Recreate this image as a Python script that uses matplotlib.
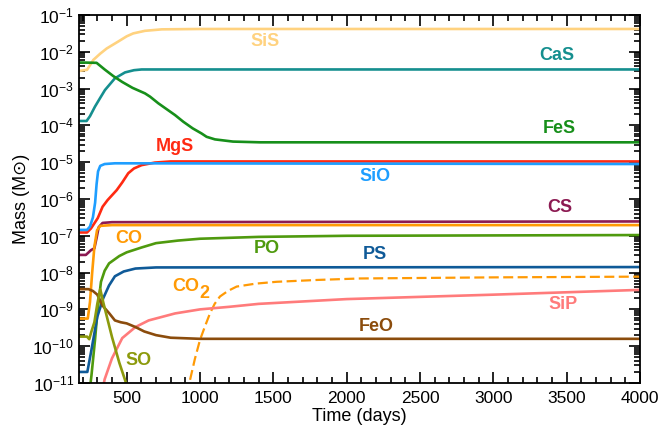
import numpy as np
import matplotlib
matplotlib.use("Agg")
import matplotlib.pyplot as plt
from matplotlib.ticker import MultipleLocator, LogLocator, NullFormatter

plt.rcParams['font.family'] = ['Liberation Sans', 'DejaVu Sans']
plt.rcParams['mathtext.fontset'] = 'custom'
plt.rcParams['mathtext.rm'] = 'Liberation Sans'
plt.rcParams['mathtext.it'] = 'Liberation Sans:italic'
plt.rcParams['mathtext.bf'] = 'Liberation Sans:bold'

# time (days) and log10 of mass (solar masses) for each molecule
sis_t = [175, 230, 273, 320, 364, 443, 500, 545, 625, 740, 1000, 4000]
sis_m = [-2.52, -2.49, -2.22, -2.05, -1.91, -1.72, -1.58, -1.50, -1.43, -1.39, -1.38, -1.38]

cas_t = [175, 227, 250, 284, 320, 352, 420, 489, 550, 602, 800, 4000]
cas_m = [-3.88, -3.88, -3.75, -3.49, -3.25, -3.04, -2.72, -2.56, -2.50, -2.48, -2.48, -2.48]

fes_t = [175, 295, 350, 409, 470, 540, 625, 660, 716, 830, 886, 950, 1011, 1045, 1102, 1225, 1410, 4000]
fes_m = [-2.29, -2.30, -2.48, -2.66, -2.82, -2.98, -3.13, -3.22, -3.40, -3.72, -3.90, -4.08, -4.22, -4.31, -4.38, -4.44, -4.46, -4.46]

mgs_t = [175, 230, 257, 280, 303, 336, 370, 432, 470, 511, 550, 602, 693, 800, 4000]
mgs_m = [-6.91, -6.91, -6.80, -6.66, -6.52, -6.21, -6.03, -5.76, -5.55, -5.30, -5.17, -5.08, -5.01, -4.98, -4.98]

sio_t = [175, 230, 250, 270, 285, 295, 305, 320, 350, 420, 4000]
sio_m = [-6.84, -6.84, -6.75, -6.50, -6.10, -5.60, -5.25, -5.10, -5.05, -5.03, -5.05]

cs_t = [175, 222, 257, 280, 296, 309, 336, 400, 4000]
cs_m = [-7.52, -7.52, -7.39, -7.34, -7.04, -6.77, -6.65, -6.63, -6.61]

co_t = [175, 235, 250, 265, 280, 298, 320, 400, 4000]
co_m = [-9.25, -9.25, -8.80, -8.00, -7.30, -6.85, -6.73, -6.71, -6.71]

po_t = [245, 260, 285, 300, 310, 325, 350, 380, 450, 500, 600, 700, 850, 1000, 1400, 2000, 4000]
po_m = [-11.3, -10.8, -9.8, -9.1, -8.75, -8.25, -7.95, -7.75, -7.55, -7.45, -7.32, -7.20, -7.13, -7.08, -7.03, -7.00, -6.98]

ps_t = [175, 232, 260, 300, 340, 380, 420, 480, 560, 700, 4000]
ps_m = [-10.70, -10.70, -10.10, -9.20, -8.70, -8.35, -8.10, -7.97, -7.89, -7.86, -7.85]

co2_t = [915, 932, 965, 1000, 1035, 1068, 1100, 1136, 1190, 1250, 1380, 1523, 1800, 2090, 3000, 4000]
co2_m = [-11.3, -10.92, -10.35, -9.83, -9.45, -9.11, -8.85, -8.65, -8.50, -8.38, -8.30, -8.25, -8.20, -8.16, -8.13, -8.11]

sip_t = [330, 350, 400, 470, 560, 650, 830, 1000, 1200, 1400, 2000, 3000, 4000]
sip_m = [-11.3, -10.9, -10.33, -9.78, -9.48, -9.30, -9.11, -9.00, -8.93, -8.85, -8.72, -8.60, -8.47]

feo_t = [175, 240, 270, 300, 336, 380, 420, 460, 500, 560, 620, 700, 800, 1000, 4000]
feo_m = [-8.45, -8.45, -8.50, -8.60, -8.90, -9.10, -9.30, -9.35, -9.38, -9.48, -9.60, -9.70, -9.77, -9.80, -9.80]

so_t = [175, 230, 245, 260, 280, 300, 320, 340, 400, 450, 500, 540]
so_m = [-9.74, -9.74, -9.81, -9.60, -9.35, -8.85, -8.45, -8.80, -9.75, -10.45, -11.05, -11.5]

curves = [
    (sis_t, sis_m, '#FFD27F', '-'),
    (cas_t, cas_m, '#158F8F', '-'),
    (fes_t, fes_m, '#178F1A', '-'),
    (mgs_t, mgs_m, '#FF2A12', '-'),
    (sio_t, sio_m, '#1E9EFF', '-'),
    (cs_t, cs_m, '#8C1A52', '-'),
    (co_t, co_m, '#FF9A05', '-'),
    (po_t, po_m, '#4F9A0E', '-'),
    (ps_t, ps_m, '#0F5A98', '-'),
    (co2_t, co2_m, '#FF9A05', '--'),
    (sip_t, sip_m, '#FF7B7B', '-'),
    (feo_t, feo_m, '#8B4C0C', '-'),
    (so_t, so_m, '#8C9A0C', '-'),
]

# name, time, log10 mass, colour for the text labels
labels = [
    ('SiS', 1443, -1.73, '#FFD27F'),
    ('CaS', 3431, -2.09, '#158F8F'),
    ('FeS', 3449, -4.08, '#178F1A'),
    ('MgS', 829, -4.58, '#FF2A12'),
    ('SiO', 2193, -5.39, '#1E9EFF'),
    ('CS', 3454, -6.23, '#8C1A52'),
    ('CO', 511, -7.07, '#FF9A05'),
    ('PO', 1454, -7.34, '#4F9A0E'),
    ('PS', 2193, -7.52, '#0F5A98'),
    ('CO', 906, -8.38, '#FF9A05'),
    ('2', 1028, -8.56, '#FF9A05'),
    ('SiP', 3476, -8.88, '#FF7B7B'),
    ('FeO', 2204, -9.47, '#8B4C0C'),
    ('SO', 579, -10.38, '#8C9A0C'),
]

fig = plt.figure(figsize=(6.62, 4.36), dpi=100)
ax = fig.add_axes([0.1193, 0.1216, 0.8475, 0.844])

for t, m, c, ls in curves:
    if ls == '--':
        ax.plot(t, 10 ** np.array(m), color=c, lw=1.6, ls=(0, (4.5, 2)))
    else:
        ax.plot(t, 10 ** np.array(m), color=c, lw=1.9, ls=ls)

for name, t, m, c in labels:
    ax.text(t, 10 ** m, name, color=c, fontsize=13, fontweight='bold',
            ha='center', va='center')

ax.set_yscale('log')
ax.set_xlim(175, 4000)
ax.set_ylim(1e-11, 1e-1)
ax.xaxis.set_major_locator(MultipleLocator(500))
ax.xaxis.set_minor_locator(MultipleLocator(100))
ax.yaxis.set_major_locator(LogLocator(base=10, numticks=20))
ax.yaxis.set_minor_locator(LogLocator(base=10, subs=np.arange(2, 10), numticks=20))
ax.yaxis.set_minor_formatter(NullFormatter())

ax.tick_params(which='both', direction='in', top=True, right=True, labelsize=12.5, width=1.2)
ax.tick_params(which='major', length=8)
ax.tick_params(which='minor', length=4)
ax.tick_params(axis='x', pad=6)
for s in ax.spines.values():
    s.set_linewidth(1.3)

ax.set_xlabel('Time (days)', fontsize=13, labelpad=1)
ax.set_ylabel('Mass (M\u2299)', fontsize=13, labelpad=2)

fig.savefig('out.png', dpi=100)
